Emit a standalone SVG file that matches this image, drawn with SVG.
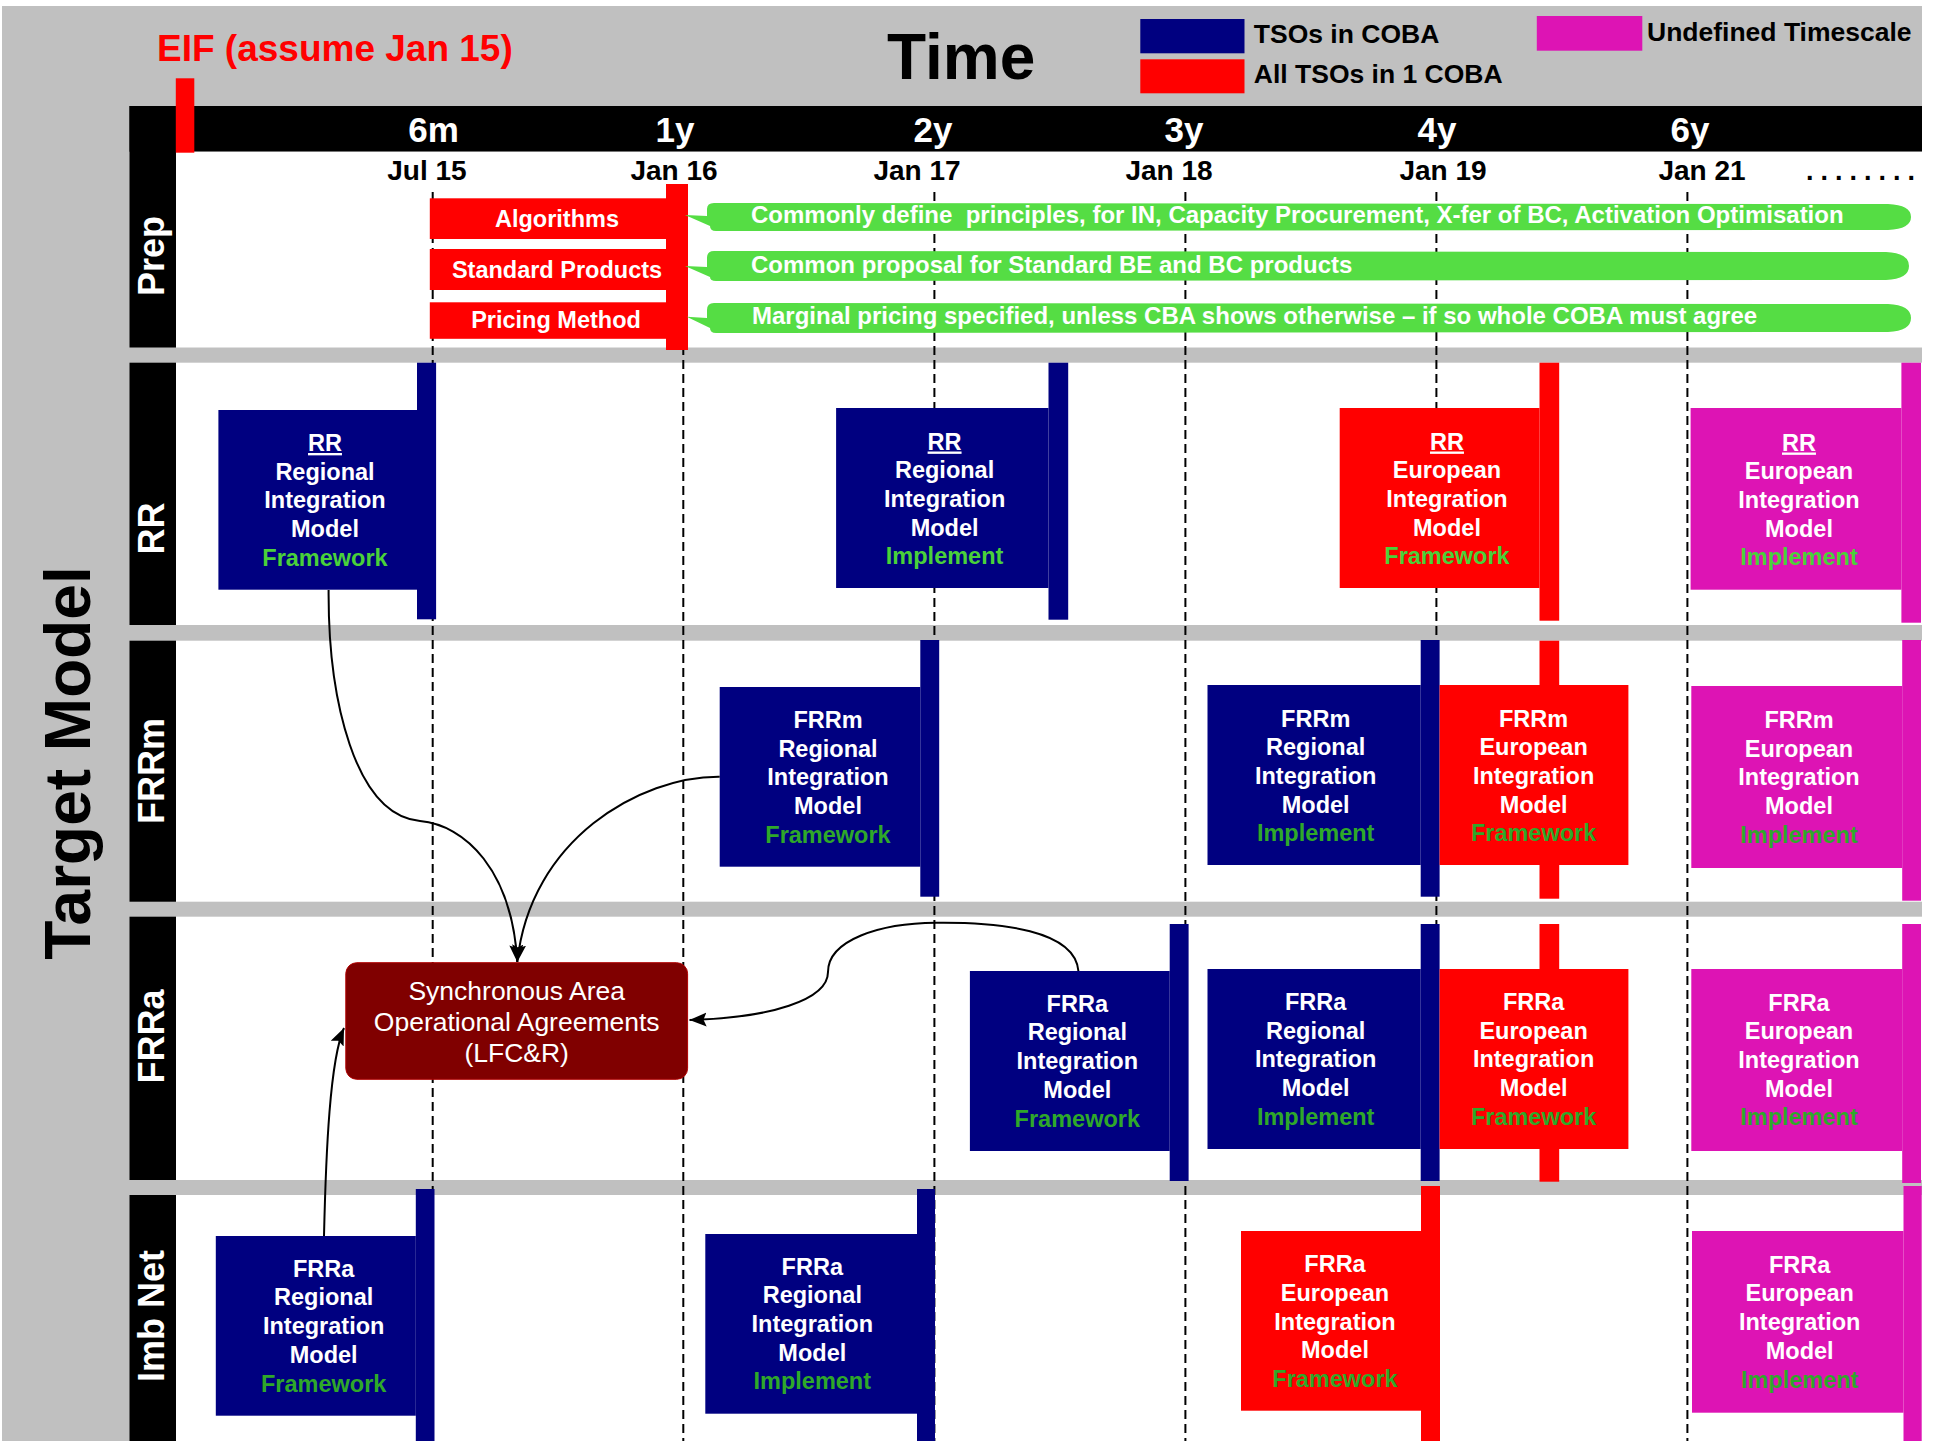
<svg xmlns="http://www.w3.org/2000/svg" width="1934" height="1441" viewBox="0 0 1934 1441">
<style>
text{font-family:"Liberation Sans",Arial,Helvetica,sans-serif;}
.b{font-weight:bold;}
.bx{font-weight:bold;font-size:23.5px;fill:#fff;text-anchor:middle;}
.g1{fill:#4ad13a;}
.g2{fill:#2fa82a;}
.navy{fill:#000080;}
.red{fill:#ff0000;}
.mag{fill:#dd14b4;}
.blk{fill:#000;}
.wht{fill:#fff;}
.dash{stroke:#000;stroke-width:2;stroke-dasharray:9 5;fill:none;}
.lbl{font-weight:bold;font-size:36px;fill:#fff;text-anchor:middle;}
.hdr{font-weight:bold;font-size:35px;fill:#fff;text-anchor:middle;}
.date{font-weight:bold;font-size:28px;fill:#000;text-anchor:middle;}
.leg{font-weight:bold;font-size:26.5px;fill:#000;}
.call{fill:#55dd44;}
.ct{font-weight:bold;font-size:24px;fill:#fff;white-space:pre;}
.pt{font-weight:bold;font-size:23.5px;fill:#fff;text-anchor:middle;}
.conn{stroke:#000;stroke-width:2;fill:none;marker-end:url(#arr);}
.u{text-decoration:underline;}
</style>
<defs>
<marker id="arr" markerUnits="userSpaceOnUse" markerWidth="18" markerHeight="15" refX="17" refY="7" orient="auto">
<path d="M0,0 L17,7 L0,14 L3,7 Z" fill="#000"/>
</marker>
</defs>

<g id="background">
<rect x="0" y="0" width="1934" height="1441" fill="#fff"/>
<rect x="2" y="6" width="1920" height="1435" fill="#c0c0c0"/>
<rect x="129.5" y="106" width="1792.5" height="45.7" class="blk"/>
<rect x="129.5" y="106" width="46.5" height="241.5" class="blk"/>
<rect x="129.5" y="362.7" width="46.5" height="262.3" class="blk"/>
<rect x="129.5" y="640.7" width="46.5" height="261" class="blk"/>
<rect x="129.5" y="916.7" width="46.5" height="263.3" class="blk"/>
<rect x="129.5" y="1195" width="46.5" height="246" class="blk"/>
<rect x="176" y="151.7" width="1746" height="195.8" class="wht"/>
<rect x="176" y="362.7" width="1746" height="262.3" class="wht"/>
<rect x="176" y="640.7" width="1746" height="261" class="wht"/>
<rect x="176" y="916.7" width="1746" height="263.3" class="wht"/>
<rect x="176" y="1195" width="1746" height="246" class="wht"/>
</g>

<g id="gridlines">
<line x1="432.7" y1="192" x2="432.7" y2="1441" class="dash"/>
<line x1="683.3" y1="192" x2="683.3" y2="1441" class="dash"/>
<line x1="934.4" y1="192" x2="934.4" y2="1441" class="dash"/>
<line x1="1185.4" y1="192" x2="1185.4" y2="1441" class="dash"/>
<line x1="1436.4" y1="192" x2="1436.4" y2="1441" class="dash"/>
<line x1="1687.4" y1="192" x2="1687.4" y2="1441" class="dash"/>
</g>

<g id="titles">
<text x="157" y="60.7" class="b" font-size="37" fill="#ff0000">EIF (assume Jan 15)</text>
<rect x="175.8" y="78.3" width="18.5" height="74.4" class="red"/>
<text x="887" y="79" class="b" font-size="64" fill="#000">Time</text>
<text transform="translate(90,763) rotate(-90)" class="b" font-size="64" fill="#000" text-anchor="middle">Target Model</text>
</g>

<g id="legend">
<rect x="1140.3" y="19" width="104.2" height="34.3" class="navy"/>
<rect x="1140.3" y="59.3" width="104.2" height="34" class="red"/>
<rect x="1536.8" y="16" width="105.5" height="34.7" class="mag"/>
<text x="1253.8" y="43.3" class="leg">TSOs in COBA</text>
<text x="1253.8" y="83.3" class="leg">All TSOs in 1 COBA</text>
<text x="1647" y="40.7" class="leg">Undefined Timescale</text>
</g>

<g id="timeline">
<text x="433.5" y="141.7" class="hdr">6m</text>
<text x="675" y="141.7" class="hdr">1y</text>
<text x="933" y="141.7" class="hdr">2y</text>
<text x="1184" y="141.7" class="hdr">3y</text>
<text x="1437" y="141.7" class="hdr">4y</text>
<text x="1690" y="141.7" class="hdr">6y</text>
<text x="427" y="180" class="date">Jul 15</text>
<text x="674" y="180" class="date">Jan 16</text>
<text x="917" y="180" class="date">Jan 17</text>
<text x="1169" y="180" class="date">Jan 18</text>
<text x="1443" y="180" class="date">Jan 19</text>
<text x="1702" y="180" class="date">Jan 21</text>
<text x="1806" y="180" class="b" font-size="27" fill="#000" letter-spacing="7">........</text>
</g>

<g id="row-labels">
<text transform="translate(163.5,256) rotate(-90)" class="lbl">Prep</text>
<text transform="translate(163.5,528.4) rotate(-90)" class="lbl">RR</text>
<text transform="translate(163.5,771) rotate(-90)" class="lbl">FRRm</text>
<text transform="translate(163.5,1036.5) rotate(-90)" class="lbl">FRRa</text>
<text transform="translate(163.5,1316) rotate(-90)" class="lbl">Imb Net</text>
</g>

<g id="prep-algorithms">
<rect x="429.8" y="198.3" width="258" height="40.7" class="red"/>
<text x="557" y="226.7" class="pt">Algorithms</text>
</g>
<g id="prep-standard-products">
<rect x="429.8" y="249" width="258" height="41" class="red"/>
<text x="557" y="278.3" class="pt">Standard Products</text>
</g>
<g id="prep-pricing-method">
<rect x="429.8" y="302.3" width="258" height="36.5" class="red"/>
<text x="556" y="328.3" class="pt">Pricing Method</text>
</g>
<g id="prep-bar">
<rect x="666" y="184" width="22" height="166" class="red"/>
</g>

<g id="callout-1">
<path d="M685,215 L707,216 L707,209 Q707,203 714,203 L1888,204 Q1911,205 1911,217 Q1911,229 1888,230 L716,231 Q710,231 710,226 Z" class="call"/>
<text x="751" y="222.7" class="ct" xml:space="preserve">Commonly define  principles, for IN, Capacity Procurement, X-fer of BC, Activation Optimisation</text>
</g>
<g id="callout-2">
<path d="M685,266 L707,267 L707,258 Q707,251 714,251 L1886,252 Q1909,253 1909,266 Q1909,279 1886,280 L716,281 Q710,281 710,277 Z" class="call"/>
<text x="751" y="273.3" class="ct">Common proposal for Standard BE and BC products</text>
</g>
<g id="callout-3">
<path d="M686.7,316.7 L707,318 L707,310 Q707,303 714,303 L1888,304 Q1911,305 1911,318 Q1911,331 1888,332 L716,333 Q710,333 710,328 Z" class="call"/>
<text x="752" y="324.3" class="ct">Marginal pricing specified, unless CBA shows otherwise – if so whole COBA must agree</text>
</g>

<g id="rr-regional-framework">
<rect x="417" y="362.7" width="19.1" height="256.6" class="navy"/>
<rect x="218.4" y="410" width="198.6" height="179.7" class="navy"/>
<text x="325" y="451" class="bx"><tspan x="325" class="u">RR</tspan><tspan x="325" dy="28.7">Regional</tspan><tspan x="325" dy="28.7">Integration</tspan><tspan x="325" dy="28.7">Model</tspan><tspan x="325" dy="28.7" class="g1">Framework</tspan></text>
</g>
<g id="rr-regional-implement">
<rect x="1048.5" y="362.7" width="19.7" height="257" class="navy"/>
<rect x="836.1" y="408" width="212.4" height="180" class="navy"/>
<text x="944.6" y="449.5" class="bx"><tspan x="944.6" class="u">RR</tspan><tspan x="944.6" dy="28.7">Regional</tspan><tspan x="944.6" dy="28.7">Integration</tspan><tspan x="944.6" dy="28.7">Model</tspan><tspan x="944.6" dy="28.7" class="g1">Implement</tspan></text>
</g>
<g id="rr-european-framework">
<rect x="1539.5" y="362.7" width="19.7" height="258" class="red"/>
<rect x="1339.7" y="408" width="199.8" height="180" class="red"/>
<text x="1447" y="449.5" class="bx"><tspan x="1447" class="u">RR</tspan><tspan x="1447" dy="28.7">European</tspan><tspan x="1447" dy="28.7">Integration</tspan><tspan x="1447" dy="28.7">Model</tspan><tspan x="1447" dy="28.7" class="g1">Framework</tspan></text>
</g>
<g id="rr-european-implement">
<rect x="1901.4" y="362.7" width="19.6" height="260" class="mag"/>
<rect x="1690.6" y="408" width="210.8" height="181.7" class="mag"/>
<text x="1799" y="450.5" class="bx"><tspan x="1799" class="u">RR</tspan><tspan x="1799" dy="28.7">European</tspan><tspan x="1799" dy="28.7">Integration</tspan><tspan x="1799" dy="28.7">Model</tspan><tspan x="1799" dy="28.7" class="g1">Implement</tspan></text>
</g>

<g id="frrm-regional-framework">
<rect x="920.3" y="640" width="18.9" height="256.7" class="navy"/>
<rect x="719.7" y="687" width="200.6" height="179.7" class="navy"/>
<text x="828" y="728" class="bx"><tspan x="828">FRRm</tspan><tspan x="828" dy="28.7">Regional</tspan><tspan x="828" dy="28.7">Integration</tspan><tspan x="828" dy="28.7">Model</tspan><tspan x="828" dy="28.7" class="g2">Framework</tspan></text>
</g>
<g id="frrm-regional-implement">
<rect x="1420.7" y="640" width="18.9" height="256.7" class="navy"/>
<rect x="1207.5" y="685" width="213.2" height="180" class="navy"/>
<text x="1315.7" y="726.5" class="bx"><tspan x="1315.7">FRRm</tspan><tspan x="1315.7" dy="28.7">Regional</tspan><tspan x="1315.7" dy="28.7">Integration</tspan><tspan x="1315.7" dy="28.7">Model</tspan><tspan x="1315.7" dy="28.7" class="g2">Implement</tspan></text>
</g>
<g id="frrm-european-framework">
<rect x="1539.5" y="640.7" width="19.7" height="258" class="red"/>
<rect x="1439.6" y="685" width="188.8" height="180" class="red"/>
<text x="1533.6" y="726.5" class="bx"><tspan x="1533.6">FRRm</tspan><tspan x="1533.6" dy="28.7">European</tspan><tspan x="1533.6" dy="28.7">Integration</tspan><tspan x="1533.6" dy="28.7">Model</tspan><tspan x="1533.6" dy="28.7" class="g2">Framework</tspan></text>
</g>
<g id="frrm-european-implement">
<rect x="1902.2" y="640" width="18.8" height="260.7" class="mag"/>
<rect x="1691.3" y="686" width="210.9" height="182" class="mag"/>
<text x="1799" y="728" class="bx"><tspan x="1799">FRRm</tspan><tspan x="1799" dy="28.7">European</tspan><tspan x="1799" dy="28.7">Integration</tspan><tspan x="1799" dy="28.7">Model</tspan><tspan x="1799" dy="28.7" class="g2">Implement</tspan></text>
</g>

<g id="frra-regional-framework">
<rect x="1169.7" y="924" width="18.9" height="257" class="navy"/>
<rect x="969.9" y="971" width="199.8" height="180" class="navy"/>
<text x="1077.3" y="1011.7" class="bx"><tspan x="1077.3">FRRa</tspan><tspan x="1077.3" dy="28.7">Regional</tspan><tspan x="1077.3" dy="28.7">Integration</tspan><tspan x="1077.3" dy="28.7">Model</tspan><tspan x="1077.3" dy="28.7" class="g2">Framework</tspan></text>
</g>
<g id="frra-regional-implement">
<rect x="1420.7" y="924" width="18.9" height="257" class="navy"/>
<rect x="1207.5" y="969" width="213.2" height="180" class="navy"/>
<text x="1315.7" y="1010" class="bx"><tspan x="1315.7">FRRa</tspan><tspan x="1315.7" dy="28.7">Regional</tspan><tspan x="1315.7" dy="28.7">Integration</tspan><tspan x="1315.7" dy="28.7">Model</tspan><tspan x="1315.7" dy="28.7" class="g2">Implement</tspan></text>
</g>
<g id="frra-european-framework">
<rect x="1539.5" y="924" width="19.7" height="257.7" class="red"/>
<rect x="1439.6" y="969" width="188.8" height="180" class="red"/>
<text x="1533.6" y="1010" class="bx"><tspan x="1533.6">FRRa</tspan><tspan x="1533.6" dy="28.7">European</tspan><tspan x="1533.6" dy="28.7">Integration</tspan><tspan x="1533.6" dy="28.7">Model</tspan><tspan x="1533.6" dy="28.7" class="g2">Framework</tspan></text>
</g>
<g id="frra-european-implement">
<rect x="1902.2" y="924" width="18.8" height="259" class="mag"/>
<rect x="1691.3" y="969" width="210.9" height="182" class="mag"/>
<text x="1799" y="1010.5" class="bx"><tspan x="1799">FRRa</tspan><tspan x="1799" dy="28.7">European</tspan><tspan x="1799" dy="28.7">Integration</tspan><tspan x="1799" dy="28.7">Model</tspan><tspan x="1799" dy="28.7" class="g2">Implement</tspan></text>
</g>

<g id="synchronous-area">
<rect x="345.8" y="962.7" width="341.8" height="116.6" rx="11" fill="#800000" stroke="#b00000" stroke-width="1"/>
<text x="516.7" y="999.5" font-size="26.5" fill="#fff" text-anchor="middle">Synchronous Area</text>
<text x="516.7" y="1031" font-size="26.5" fill="#fff" text-anchor="middle">Operational Agreements</text>
<text x="516.7" y="1062" font-size="26.5" fill="#fff" text-anchor="middle">(LFC&amp;R)</text>
</g>

<g id="imb-regional-framework">
<rect x="415.8" y="1189" width="18.7" height="252" class="navy"/>
<rect x="215.8" y="1236" width="200" height="179.7" class="navy"/>
<text x="323.7" y="1276.7" class="bx"><tspan x="323.7">FRRa</tspan><tspan x="323.7" dy="28.7">Regional</tspan><tspan x="323.7" dy="28.7">Integration</tspan><tspan x="323.7" dy="28.7">Model</tspan><tspan x="323.7" dy="28.7" class="g2">Framework</tspan></text>
</g>
<g id="imb-regional-implement">
<rect x="917" y="1189" width="18" height="252" class="navy"/>
<rect x="705.3" y="1234" width="211.7" height="179.7" class="navy"/>
<text x="812.3" y="1274.5" class="bx"><tspan x="812.3">FRRa</tspan><tspan x="812.3" dy="28.7">Regional</tspan><tspan x="812.3" dy="28.7">Integration</tspan><tspan x="812.3" dy="28.7">Model</tspan><tspan x="812.3" dy="28.7" class="g2">Implement</tspan></text>
</g>
<g id="imb-european-framework">
<rect x="1421" y="1186" width="19" height="255" class="red"/>
<rect x="1241" y="1231" width="180" height="179.7" class="red"/>
<text x="1335" y="1272.3" class="bx"><tspan x="1335">FRRa</tspan><tspan x="1335" dy="28.7">European</tspan><tspan x="1335" dy="28.7">Integration</tspan><tspan x="1335" dy="28.7">Model</tspan><tspan x="1335" dy="28.7" class="g2">Framework</tspan></text>
</g>
<g id="imb-european-implement">
<rect x="1903.5" y="1186" width="18.2" height="255" class="mag"/>
<rect x="1692" y="1231" width="211.5" height="181.7" class="mag"/>
<text x="1799.7" y="1272.7" class="bx"><tspan x="1799.7">FRRa</tspan><tspan x="1799.7" dy="28.7">European</tspan><tspan x="1799.7" dy="28.7">Integration</tspan><tspan x="1799.7" dy="28.7">Model</tspan><tspan x="1799.7" dy="28.7" class="g2">Implement</tspan></text>
</g>

<g id="connectors">
<path d="M328.6,590 C328,700 355,815 420,821 C465,825 512,870 517.3,962" class="conn"/>
<path d="M719.7,776.7 C640,776 530,840 517.3,962" class="conn"/>
<path d="M1078.4,971 C1075,930 1000,922 936,922.7 C880,923 828,940 828,972 C828,1000 770,1018 689.5,1020" class="conn"/>
<path d="M324,1236 C326,1150 330,1060 344,1028" class="conn"/>
</g>
</svg>
